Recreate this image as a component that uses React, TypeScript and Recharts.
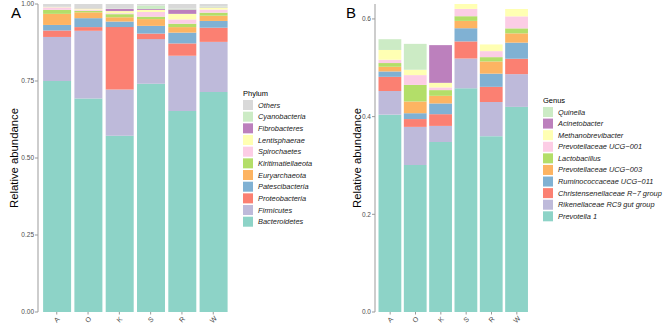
import React from 'react';
import { BarChart, Bar, XAxis, YAxis } from 'recharts';

const groups = ['A', 'O', 'K', 'S', 'R', 'W'];

// Panel A – Phylum (relative abundance)
const bacteroidetes = [0.750, 0.693, 0.572, 0.741, 0.653, 0.714];
const firmicutes = [0.143, 0.220, 0.150, 0.145, 0.179, 0.163];
const proteobacteria = [0.021, 0.012, 0.203, 0.018, 0.040, 0.046];
const patescibacteria = [0.018, 0.029, 0.018, 0.025, 0.035, 0.022];
const euryarchaeota = [0.036, 0.019, 0.014, 0.022, 0.018, 0.017];
const kiritimatiellaeota = [0.013, 0.005, 0.010, 0.008, 0.011, 0.010];
const spirochaetes = [0.008, 0.004, 0.003, 0.015, 0.014, 0.010];
const lentisphaerae = [0.001, 0.003, 0.007, 0.007, 0.018, 0.006];
const fibrobacteres = [0.000, 0.001, 0.007, 0.003, 0.014, 0.001];
const cyanobacteria = [0.001, 0.001, 0.001, 0.011, 0.003, 0.003];
const othersPhylum = [0.009, 0.013, 0.015, 0.005, 0.015, 0.008];

// Panel B – Genus (relative abundance)
const prevotella1 = [0.404, 0.301, 0.348, 0.458, 0.360, 0.420];
const rikenellaceaeRC9 = [0.0485, 0.078, 0.033, 0.061, 0.070, 0.067];
const christensenellaceaeR7 = [0.029, 0.016, 0.024, 0.035, 0.031, 0.0315];
const ruminococcaceaeUCG011 = [0.011, 0.012, 0.022, 0.027, 0.027, 0.033];
const prevotellaceaeUCG003 = [0.0096, 0.024, 0.0156, 0.015, 0.025, 0.019];
const lactobacillus = [0.0076, 0.034, 0.0117, 0.0096, 0.0088, 0.0102];
const prevotellaceaeUCG001 = [0.0068, 0.020, 0.0055, 0.015, 0.0123, 0.0246];
const methanobrevibacter = [0.020, 0.011, 0.0094, 0.010, 0.0137, 0.0151];
const acinetobacter = [0, 0, 0.0772, 0, 0, 0];
const quinella = [0.022, 0.053, 0, 0, 0, 0];

const phylumTicks = [0, 0.25, 0.5, 0.75, 1];
const genusTicks = [0, 0.2, 0.4, 0.6];

const setColors = ['#8DD3C7', '#BEBADA', '#FB8072', '#80B1D3', '#FDB462', '#B3DE69', '#FCCDE5', '#FFFFB3', '#BC80BD', '#CCEBC5', '#D9D9D9'];

// bottom -> top
const phylumSeries = [
  { key: 'Bacteroidetes', values: bacteroidetes },
  { key: 'Firmicutes', values: firmicutes },
  { key: 'Proteobacteria', values: proteobacteria },
  { key: 'Patescibacteria', values: patescibacteria },
  { key: 'Euryarchaeota', values: euryarchaeota },
  { key: 'Kiritimatiellaeota', values: kiritimatiellaeota },
  { key: 'Spirochaetes', values: spirochaetes },
  { key: 'Lentisphaerae', values: lentisphaerae },
  { key: 'Fibrobacteres', values: fibrobacteres },
  { key: 'Cyanobacteria', values: cyanobacteria },
  { key: 'Others', values: othersPhylum },
];

const genusSeries = [
  { key: 'Prevotella 1', values: prevotella1 },
  { key: 'Rikenellaceae RC9 gut group', values: rikenellaceaeRC9 },
  { key: 'Christensenellaceae R\u22127 group', values: christensenellaceaeR7 },
  { key: 'Ruminococcaceae UCG\u2212011', values: ruminococcaceaeUCG011 },
  { key: 'Prevotellaceae UCG\u2212003', values: prevotellaceaeUCG003 },
  { key: 'Lactobacillus', values: lactobacillus },
  { key: 'Prevotellaceae UCG\u2212001', values: prevotellaceaeUCG001 },
  { key: 'Methanobrevibacter', values: methanobrevibacter },
  { key: 'Acinetobacter', values: acinetobacter },
  { key: 'Quinella', values: quinella },
];

const buildRows = (series: { key: string; values: number[] }[]) =>
  groups.map((g, i) => {
    const row: Record<string, any> = { group: g };
    series.forEach((s) => (row[s.key] = s.values[i]));
    return row;
  });

const phylumData = buildRows(phylumSeries);
const genusData = buildRows(genusSeries);
const genusMax = Math.max(...groups.map((_, i) => genusSeries.reduce((a, s) => a + s.values[i], 0)));

const FONT = '"Liberation Sans", Arial, Helvetica, sans-serif';

const XTick = (props: any) => {
  const { x, y, payload } = props;
  return (
    <text
      transform={`translate(${x},${y + 3}) rotate(-45)`}
      textAnchor="middle"
      dominantBaseline="central"
      fontSize={7}
      fill="#4D4D4D"
      fontFamily={FONT}
    >
      {payload.value}
    </text>
  );
};

const YTitle = (props: any) => {
  const { cx, cy } = props;
  return (
    <text
      transform={`translate(${cx},${cy}) rotate(-90)`}
      textAnchor="middle"
      dominantBaseline="central"
      fontSize={11.3}
      fill="#000"
      fontFamily={FONT}
    >
      Relative abundance
    </text>
  );
};

const LegendBox = ({ left, top, title, items, step, width }: { left: number; top: number; title: string; items: { name: string; color: string }[]; step: number; width: number }) => (
  <svg style={{ position: 'absolute', left, top }} width={width} height={12 + items.length * step + 4}>
    <text x={0} y={5} dominantBaseline="central" fontSize={7.5} fill="#000" fontFamily={FONT}>{title}</text>
    {items.map((it, i) => (
      <g key={it.name}>
        <rect x={0} y={12 + i * step} width={10} height={10} fill={it.color} />
        <text x={15} y={12 + i * step + 5} dominantBaseline="central" fontSize={7.4} fontStyle="italic" fill="#1A1A1A" fontFamily={FONT}>{it.name}</text>
      </g>
    ))}
  </svg>
);

const axisStroke = '#BDBDBD';

export default function App() {
  return (
    <div style={{ position: 'absolute', left: 0, top: 0, width: 669, height: 333, background: '#fff', overflow: 'hidden' }}>
      <div style={{ position: 'absolute', left: 0, top: 0 }}>
        <BarChart width={232} height={333} data={phylumData} margin={{ top: 4, right: 0, bottom: 0, left: 0 }} barSize={28}>
          <XAxis
            dataKey="group"
            height={21}
            padding={{ left: 3.1, right: 3.1 }}
            axisLine={false}
            tickSize={2.5}
            tickLine={{ stroke: '#999' }}
            tick={<XTick />}
            interval={0}
          />
          <YAxis
            width={38}
            type="number"
            domain={[0, 1]}
            ticks={phylumTicks}
            tickFormatter={(v: number) => v.toFixed(2)}
            tickSize={3}
            tickMargin={1}
            tick={{ fontSize: 6.5, fill: '#4D4D4D', fontFamily: FONT }}
            tickLine={{ stroke: '#999' }}
            axisLine={{ stroke: axisStroke, strokeWidth: 1.5 }}
            label={<YTitle cx={14.3} cy={158} />}
          />
          {phylumSeries.map((s, i) => (
            <Bar key={s.key} dataKey={s.key} stackId="p" fill={setColors[i]} isAnimationActive={false} />
          ))}
        </BarChart>
      </div>
      <div style={{ position: 'absolute', left: 336, top: 0 }}>
        <BarChart width={196} height={333} data={genusData} margin={{ top: 4, right: 0, bottom: 0, left: 0 }} barSize={22.8}>
          <XAxis
            dataKey="group"
            height={21}
            padding={{ left: 2.5, right: 2.5 }}
            axisLine={false}
            tickSize={2.5}
            tickLine={{ stroke: '#999' }}
            tick={<XTick />}
            interval={0}
          />
          <YAxis
            width={39}
            type="number"
            domain={[0, genusMax]}
            ticks={genusTicks}
            tickFormatter={(v: number) => v.toFixed(1)}
            tickSize={3}
            tickMargin={1}
            tick={{ fontSize: 6.5, fill: '#4D4D4D', fontFamily: FONT }}
            tickLine={{ stroke: '#999' }}
            axisLine={{ stroke: axisStroke, strokeWidth: 1.5 }}
            label={<YTitle cx={20.7} cy={158} />}
          />
          {genusSeries.map((s, i) => (
            <Bar key={s.key} dataKey={s.key} stackId="g" fill={setColors[i]} isAnimationActive={false} />
          ))}
        </BarChart>
      </div>
      <svg style={{ position: 'absolute', left: 0, top: 0 }} width={669} height={30}>
        <text x={11} y={18} fontSize={15} fill="#000" fontFamily={FONT}>A</text>
        <text x={346} y={18} fontSize={15} fill="#000" fontFamily={FONT}>B</text>
      </svg>
      <LegendBox
        left={243}
        top={88}
        width={110}
        title="Phylum"
        step={11.67}
        items={phylumSeries.map((s, i) => ({ name: s.key, color: setColors[i] })).reverse()}
      />
      <LegendBox
        left={543}
        top={95}
        width={126}
        title="Genus"
        step={11.59}
        items={genusSeries.map((s, i) => ({ name: s.key, color: setColors[i] })).reverse()}
      />
    </div>
  );
}
